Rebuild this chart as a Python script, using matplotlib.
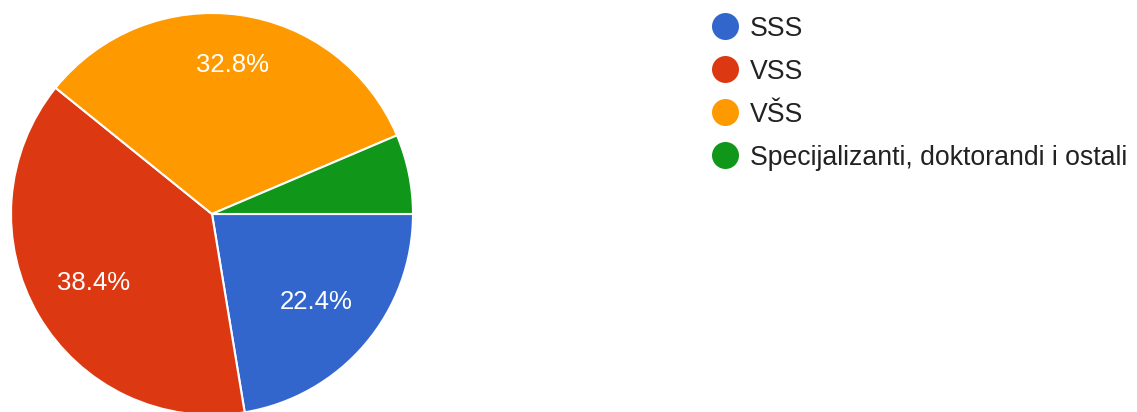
import matplotlib.pyplot as plt

categories = ["SSS", "VSS", "VŠS", "Specijalizanti, doktorandi i ostali"]
shares = [22.4, 38.4, 32.8, 6.4]
colors = ["#3366cc", "#dc3912", "#ff9900", "#109618"]

plt.rcParams['font.family'] = ['Liberation Sans', 'DejaVu Sans']

W, H = 1137, 412
fig = plt.figure(figsize=(W / 100, H / 100), dpi=100)
ax = fig.add_axes([0, 0, 1, 1])
ax.set_xlim(0, W)
ax.set_ylim(0, H)
ax.set_aspect('equal')
ax.axis('off')

def fmt(p):
    return f"{p:.1f}%" if p >= 10 else ""

wedges, texts, autotexts = ax.pie(
    shares, colors=colors, startangle=0, counterclock=False,
    center=(212, 198), radius=201, autopct=fmt, pctdistance=0.68,
    wedgeprops=dict(edgecolor='white', linewidth=1.5),
    textprops=dict(color='white', fontsize=18.5),
)
ax.set_xlim(0, W)
ax.set_ylim(0, H)

# the big top slice has its label pushed further out
x, y = autotexts[2].get_position()
autotexts[2].set_position((212 + (x - 212) * 0.75 / 0.68, 198 + (y - 198) * 0.75 / 0.68))

# legend on the right
for i, (name, c) in enumerate(zip(categories, colors)):
    yy = H - 26 - 43 * i
    ax.scatter([725], [yy], s=(13.5 * 0.72 * 2) ** 2, color=c, linewidths=0)
    ax.text(750, yy, name, fontsize=19.2, color='#222222', va='center_baseline', ha='left')

fig.savefig("out.png", dpi=100)
